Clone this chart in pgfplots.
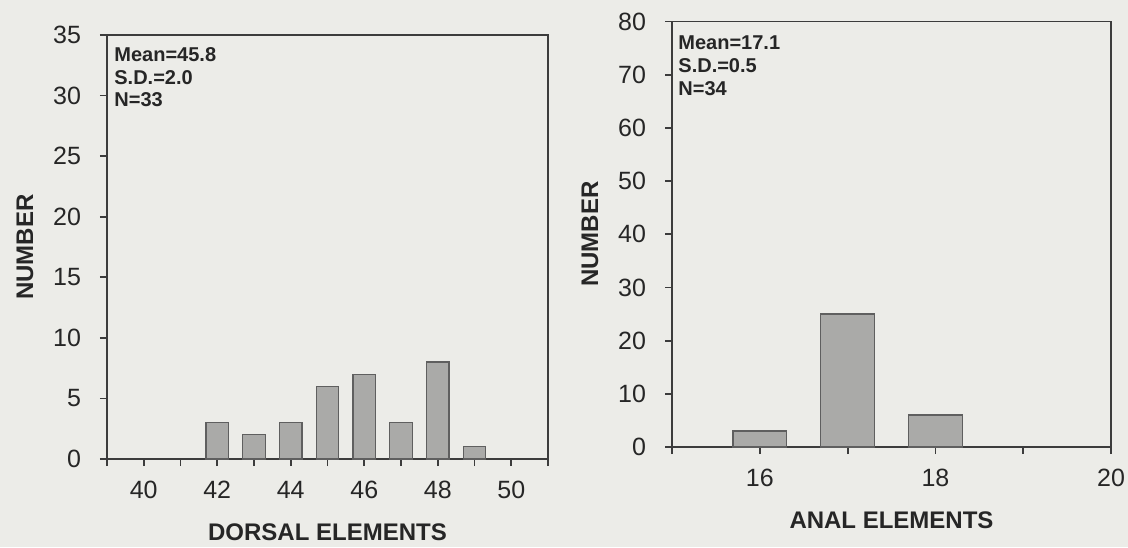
\documentclass[border=0pt]{standalone}
\usepackage{pgfplots}
\pgfplotsset{compat=1.18}
\usepackage{fontspec}
\setmainfont{Liberation Sans}
\definecolor{bg}{RGB}{236,236,232}
\definecolor{barfill}{RGB}{170,170,168}
\definecolor{baredge}{RGB}{95,95,95}
\definecolor{axcol}{RGB}{60,60,60}
\pgfplotsset{
  myaxis/.style={
    scale only axis,
    anchor=south west,
    axis line style={axcol, line width=0.7pt},
    tick style={axcol, line width=0.9pt},
    tick align=outside,
    major tick length=3.5pt,
    xtick pos=bottom, ytick pos=left,
    ymin=0,
    /pgf/number format/assume math mode=true,
    tick label style={font=\fontsize{12.5}{14}\selectfont, text=black!85},
    xticklabel style={yshift=-4pt},
    yticklabel style={xshift=-6pt},
    every axis y label/.style={at={(axis description cs:0,0.5)}, xshift=-41pt, rotate=90, anchor=center,
      font=\fontsize{12}{14}\selectfont\bfseries, text=black!85},
    every axis x label/.style={at={(axis description cs:0.5,0)}, yshift=-36.5pt, anchor=center,
      font=\fontsize{12}{14}\selectfont\bfseries, text=black!85},
    ybar, bar width=0.61,
  },
  mybar/.style={fill=barfill, draw=baredge, line width=0.6pt},
}
\begin{document}
\begin{tikzpicture}
\fill[bg] (0,0) rectangle (564pt,273.5pt);
\useasboundingbox (0,0) rectangle (564pt,273.5pt);
\begin{axis}[myaxis,
  at={(53.5pt,44pt)}, width=220.5pt, height=212pt,
  xmin=39, xmax=51, ymax=35,
  xtick={39,...,51},
  xticklabels={,40,,42,,44,,46,,48,,50,},
  ytick={0,5,...,35},
  xlabel={DORSAL ELEMENTS}, ylabel={NUMBER}]
\addplot[mybar] coordinates {(42,3) (43,2) (44,3) (45,6) (46,7) (47,3) (48,8) (49,1)};
\node[anchor=north west, inner sep=0pt, align=left, font=\fontsize{10}{11.4}\selectfont\bfseries, text=black!85]
  at (axis description cs:0,1) [xshift=3.5pt, yshift=-6pt] {Mean=45.8\\S.D.=2.0\\N=33};
\end{axis}
\begin{axis}[myaxis,
  at={(336pt,50pt)}, width=219.5pt, height=212.75pt,
  xmin=15, xmax=20, ymax=80,
  xtick={15,...,20},
  xticklabels={,16,,18,,20},
  ytick={0,10,...,80},
  xlabel={ANAL ELEMENTS}, ylabel={NUMBER}]
\addplot[mybar] coordinates {(16,3) (17,25) (18,6)};
\node[anchor=north west, inner sep=0pt, align=left, font=\fontsize{10}{11.4}\selectfont\bfseries, text=black!85]
  at (axis description cs:0,1) [xshift=3pt, yshift=-7pt] {Mean=17.1\\S.D.=0.5\\N=34};
\end{axis}
\end{tikzpicture}
\end{document}
